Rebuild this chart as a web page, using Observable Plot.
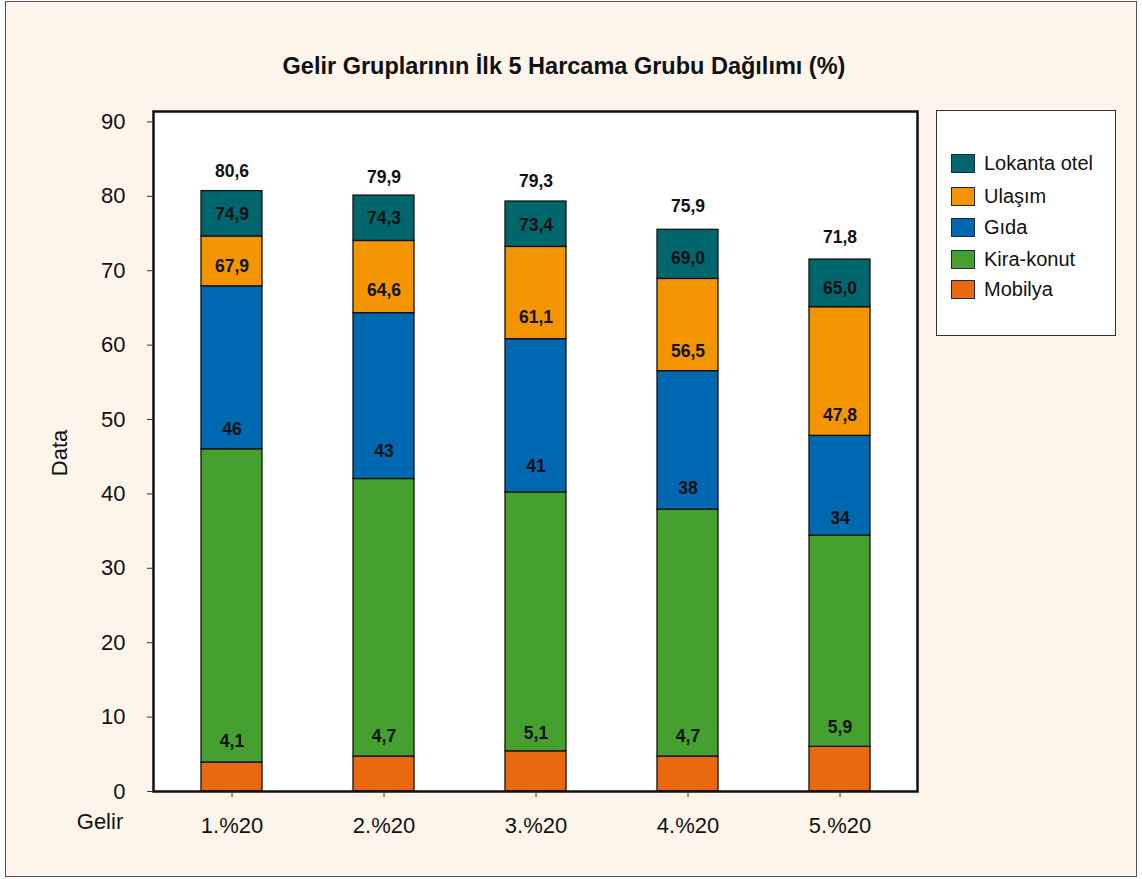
<!DOCTYPE html>
<html>
<head>
<meta charset="utf-8">
<script src="https://cdn.jsdelivr.net/npm/d3@7"></script>
<script src="https://cdn.jsdelivr.net/npm/@observablehq/plot@0.6"></script>
<style>
  html, body { margin: 0; padding: 0; background: #ffffff; }
  body { font-family: "Liberation Sans", Arial, sans-serif; }
  #wrap { position: relative; width: 1142px; height: 879px; overflow: hidden; }
  #panel { position: absolute; left: 5px; top: 1px; width: 1130px; height: 874px; background: #fdf5ea; border: 1.5px solid #555; }
  #chart { position: absolute; left: 0; top: 0; }
  .title { position: absolute; left: 0; width: 1128px; top: 53px; text-align: center; font-weight: bold; font-size: 23.5px; color: #111; }
  .ylab { position: absolute; left: 60px; top: 453px; transform: translate(-50%, -50%) rotate(-90deg); font-size: 22px; color: #111; }
  .xlab { position: absolute; left: 100px; top: 822px; transform: translate(-50%, -50%); font-size: 22px; color: #111; }
  #legend { position: absolute; left: 936px; top: 110px; width: 180px; height: 226px; background: #fff; border: 1.5px solid #333; box-sizing: border-box; }
  .li { position: absolute; left: 14px; height: 20px; display: flex; align-items: center; font-size: 20px; color: #111; white-space: nowrap; }
  .sw { width: 24px; height: 19px; border: 1px solid #1a2a40; box-sizing: border-box; margin-right: 9px; }
</style>
</head>
<body>
<div id="wrap">
  <div id="panel"></div>
  <div id="chart"></div>
  <div class="title">Gelir Gruplarının İlk 5 Harcama Grubu Dağılımı (%)</div>
  <div class="ylab">Data</div>
  <div class="xlab">Gelir</div>
  <div id="legend"></div>
</div>
<script>
// Categories (income quintiles)
const groups = ["1.%20", "2.%20", "3.%20", "4.%20", "5.%20"];

// Series, bottom to top
const series = ["Mobilya", "Kira-konut", "Gıda", "Ulaşım", "Lokanta otel"];
const colors = ["#e8690f", "#45a02f", "#0067b1", "#f39500", "#00666e"];

// Segment values (percent)
const mobilya  = [3.9, 4.7, 5.4, 4.7, 6.0];
const kiraKonut = [42.1, 37.3, 34.8, 33.2, 28.4];
const gida     = [21.9, 22.3, 20.6, 18.6, 13.4];
const ulasim   = [6.7, 9.7, 12.4, 12.4, 17.3];
const lokanta  = [6.1, 6.1, 6.1, 6.6, 6.4];

// Data labels printed on the chart (cumulative values)
const lblMobilya = ["4,1", "4,7", "5,1", "4,7", "5,9"];
const lblKira    = ["46", "43", "41", "38", "34"];
const lblGida    = ["67,9", "64,6", "61,1", "56,5", "47,8"];
const lblUlasim  = ["74,9", "74,3", "73,4", "69,0", "65,0"];
const lblLokanta = ["80,6", "79,9", "79,3", "75,9", "71,8"];

// Y ticks
const yTicks = [0, 10, 20, 30, 40, 50, 60, 70, 80, 90];

const values = [mobilya, kiraKonut, gida, ulasim, lokanta];
const labels = [lblMobilya, lblKira, lblGida, lblUlasim, lblLokanta];

const rows = [];
groups.forEach((g, i) => {
  series.forEach((s, j) => {
    rows.push({ group: g, series: s, value: values[j][i] });
  });
});
const labelRows = [];
groups.forEach((g, i) => {
  series.forEach((s, j) => {
    const t = labels[j][i];
    labelRows.push({ group: g, text: t, pos: +t.replace(",", ".") });
  });
});

const chart = Plot.plot({
  width: 1142,
  height: 879,
  marginLeft: 153,
  marginRight: 225,
  marginTop: 111,
  marginBottom: 88,
  style: { background: "transparent", fontFamily: "Liberation Sans, Arial, sans-serif", color: "#111" },
  x: { domain: groups, paddingInner: 0.6, paddingOuter: 0.3 },
  y: { domain: [0, 91.4] },
  color: { domain: series, range: colors },
  marks: [
    Plot.frame({ fill: "white", stroke: null }),
    Plot.barY(rows, { x: "group", y: "value", fill: "series", stroke: "#111", strokeWidth: 1.3 }),
    Plot.text(labelRows, { x: "group", y: "pos", text: "text", dy: -20, fontSize: 17.5, fontWeight: "bold", fill: "#111" }),
    Plot.frame({ stroke: "#111", strokeWidth: 2.5 }),
    Plot.axisY({ ticks: yTicks, tickSize: 6, tickPadding: 22, fontSize: 22, label: null, tickFormat: d => String(d), stroke: "#333" }),
    Plot.axisX({ tickSize: 6, tickPadding: 20, fontSize: 22, label: null, stroke: "#333" })
  ]
});
document.getElementById("chart").appendChild(chart);

// Legend (top to bottom as in reference)
const legend = document.getElementById("legend");
const legendOrder = ["Lokanta otel", "Ulaşım", "Gıda", "Kira-konut", "Mobilya"];
const legendTops = [42, 75, 106, 138, 168];
legendOrder.forEach((s, k) => {
  const item = document.createElement("div");
  item.className = "li";
  item.style.top = legendTops[k] + "px";
  const sw = document.createElement("div");
  sw.className = "sw";
  sw.style.background = colors[series.indexOf(s)];
  const tx = document.createElement("span");
  tx.textContent = s;
  item.appendChild(sw);
  item.appendChild(tx);
  legend.appendChild(item);
});
</script>
</body>
</html>
